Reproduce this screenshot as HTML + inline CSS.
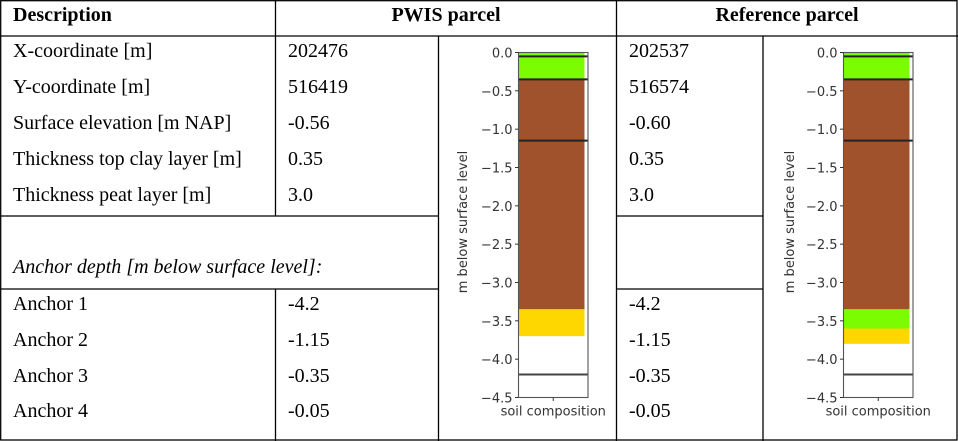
<!DOCTYPE html>
<html><head><meta charset="utf-8"><style>
html,body{margin:0;padding:0;background:#fff;}
svg{display:block;}
.t{font-family:"Liberation Serif",serif;font-size:20px;fill:#000;}
.h{font-family:"Liberation Serif",serif;font-size:20px;font-weight:bold;fill:#000;}
.k{font-family:"DejaVu Sans",sans-serif;font-size:13px;fill:#333;}
</style></head><body>
<svg id="root" width="958" height="441" viewBox="0 0 958 441">
<g stroke="#000" stroke-width="1.3" fill="none">
<rect x="0.7" y="0.7" width="956.3" height="439.3"/>
<line x1="0" y1="36" x2="958" y2="36"/>
<line x1="275.5" y1="0" x2="275.5" y2="216"/>
<line x1="275.5" y1="289" x2="275.5" y2="441"/>
<line x1="438.5" y1="36" x2="438.5" y2="441"/>
<line x1="616.5" y1="0" x2="616.5" y2="441"/>
<line x1="763" y1="36" x2="763" y2="441"/>
<line x1="0" y1="216" x2="438.5" y2="216"/>
<line x1="0" y1="289" x2="438.5" y2="289"/>
<line x1="616.5" y1="216" x2="763" y2="216"/>
<line x1="616.5" y1="289" x2="763" y2="289"/>
</g>
<text class="h" x="13" y="21">Description</text>
<text class="h" x="446" y="21" text-anchor="middle">PWIS parcel</text>
<text class="h" x="787" y="21" text-anchor="middle">Reference parcel</text>
<g>
<text class="t" x="13" y="57">X-coordinate [m]</text>
<text class="t" x="13" y="93">Y-coordinate [m]</text>
<text class="t" x="13" y="129">Surface elevation [m NAP]</text>
<text class="t" x="13" y="165">Thickness top clay layer [m]</text>
<text class="t" x="13" y="201">Thickness peat layer [m]</text>
<text class="t" x="13" y="273" font-style="italic">Anchor depth [m below surface level]:</text>
<text class="t" x="13" y="310">Anchor 1</text>
<text class="t" x="13" y="346">Anchor 2</text>
<text class="t" x="13" y="382">Anchor 3</text>
<text class="t" x="13" y="417">Anchor 4</text>
</g>
<g>
<text class="t" x="288" y="57">202476</text>
<text class="t" x="288" y="93">516419</text>
<text class="t" x="288" y="129">-0.56</text>
<text class="t" x="288" y="165">0.35</text>
<text class="t" x="288" y="201">3.0</text>
<text class="t" x="288" y="310">-4.2</text>
<text class="t" x="288" y="346">-1.15</text>
<text class="t" x="288" y="382">-0.35</text>
<text class="t" x="288" y="417">-0.05</text>
</g>
<g>
<text class="t" x="629" y="57">202537</text>
<text class="t" x="629" y="93">516574</text>
<text class="t" x="629" y="129">-0.60</text>
<text class="t" x="629" y="165">0.35</text>
<text class="t" x="629" y="201">3.0</text>
<text class="t" x="629" y="310">-4.2</text>
<text class="t" x="629" y="346">-1.15</text>
<text class="t" x="629" y="382">-0.35</text>
<text class="t" x="629" y="417">-0.05</text>
</g>
</svg>
<script>
const yTicks = [0.0, -0.5, -1.0, -1.5, -2.0, -2.5, -3.0, -3.5, -4.0, -4.5];
const pwisLayerTops = [0, -0.35, -3.35];
const pwisLayerBottoms = [-0.35, -3.35, -3.7];
const pwisLayerColors = ["#7cfc00", "#a0522d", "#ffd700"];
const pwisAnchors = [-0.05, -0.35, -1.15, -4.2];
const refLayerTops = [0, -0.35, -3.35, -3.6];
const refLayerBottoms = [-0.35, -3.35, -3.6, -3.8];
const refLayerColors = ["#7cfc00", "#a0522d", "#7cfc00", "#ffd700"];
const refAnchors = [-0.05, -0.35, -1.15, -4.2];

const NS = "http://www.w3.org/2000/svg";
const root = document.getElementById("root");
function mk(tag, attrs, parent) {
  const e = document.createElementNS(NS, tag);
  for (const k in attrs) e.setAttribute(k, attrs[k]);
  parent.appendChild(e);
  return e;
}
function drawChart(prefix, left, right, tops, bottoms, colors, anchors, labelX) {
  const yTop = 52.5, yBot = 397.5, vMin = -4.5, vMax = 0;
  const yScale = v => yTop + (vMax - v) / (vMax - vMin) * (yBot - yTop);
  const g = mk("g", {}, root);
  
  
  const barRight = right - 3.5;
  for (let i = 0; i < tops.length; i++) {
    const r = mk("rect", {x: left, y: yScale(tops[i]), width: barRight - left, height: yScale(bottoms[i]) - yScale(tops[i]), fill: colors[i]}, g);
    
    
  }
  for (let i = 0; i < anchors.length; i++) {
    const y = yScale(anchors[i]);
    const l = mk("line", {x1: left, x2: right, y1: y, y2: y, stroke: anchors[i] < -4 ? "#444" : "#222", "stroke-width": 2}, g);
    
    
  }
  const f = mk("rect", {x: left, y: yTop, width: right - left, height: yBot - yTop, fill: "none", stroke: "#555", "stroke-width": 1.1}, g);
  
  
  for (let i = 0; i < yTicks.length; i++) {
    const y = yScale(yTicks[i]);
    mk("line", {x1: left - 3.5, x2: left, y1: y, y2: y, stroke: "#333", "stroke-width": 1}, g);
    const t = mk("text", {x: left - 6, y: y + 5, "text-anchor": "end", class: "k"}, g);
    t.textContent = (yTicks[i] < 0 ? "\u2212" + Math.abs(yTicks[i]).toFixed(1) : yTicks[i].toFixed(1));
    
    
  }
  const cx = (left + right) / 2;
  mk("line", {x1: cx, x2: cx, y1: yBot, y2: yBot + 3.5, stroke: "#333", "stroke-width": 1}, g);
  const xl = mk("text", {x: cx, y: yBot + 18, "text-anchor": "middle", class: "k"}, g);
  xl.textContent = "soil composition";
  
  
  const yl = mk("text", {x: labelX, y: 222, "text-anchor": "middle", class: "k", transform: "rotate(-90 " + labelX + " 222)"}, g);
  yl.textContent = "m below surface level";
  
  
}
drawChart("pwis", 518.5, 588, pwisLayerTops, pwisLayerBottoms, pwisLayerColors, pwisAnchors, 467);
drawChart("reference", 843.5, 913, refLayerTops, refLayerBottoms, refLayerColors, refAnchors, 794);
</script>
</body></html>
